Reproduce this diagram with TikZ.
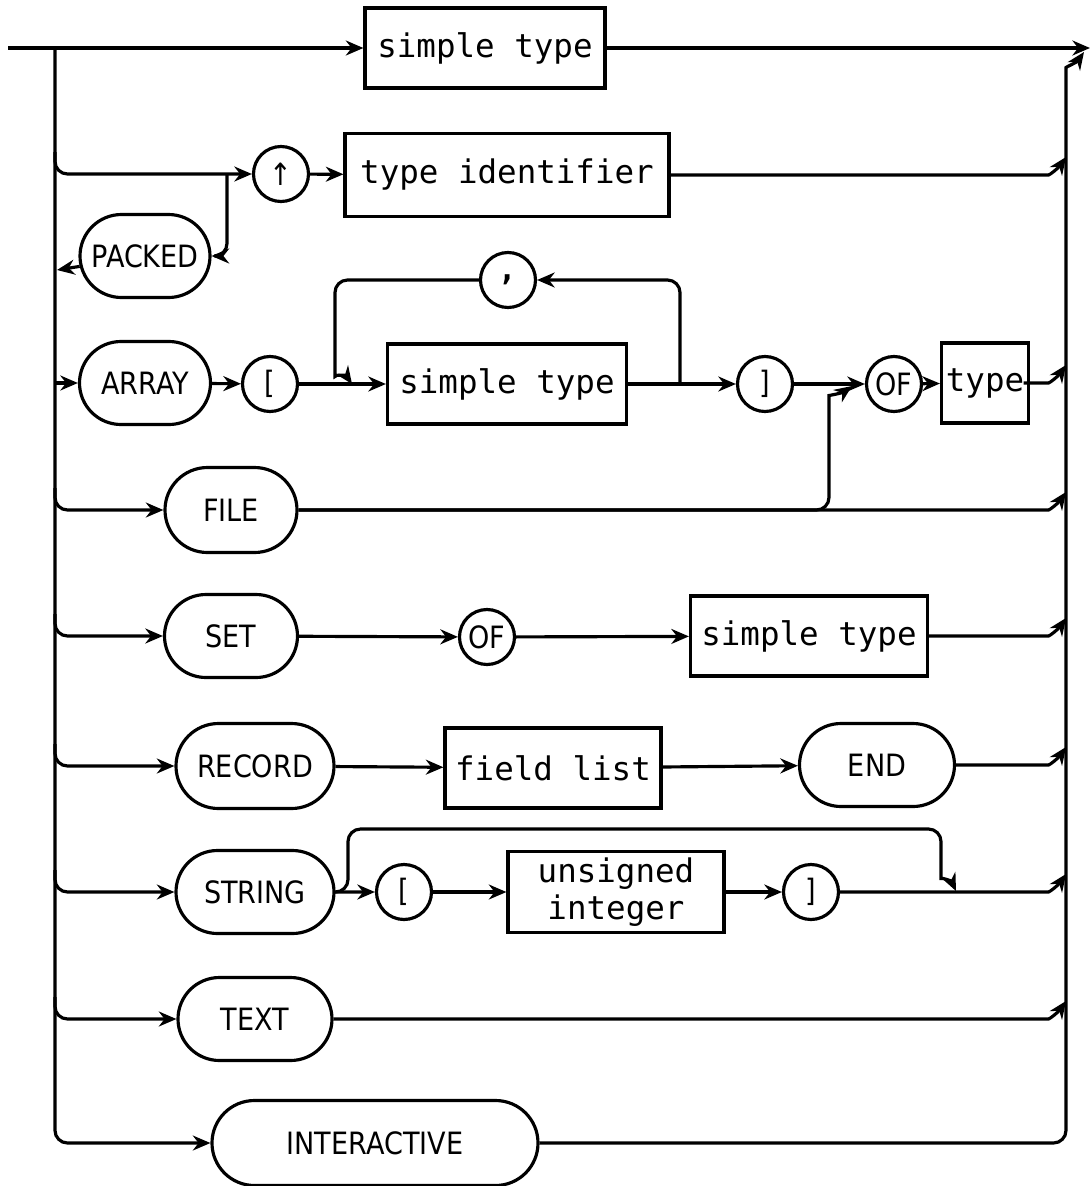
\documentclass[tikz,border=0pt]{standalone}
\usepackage{fontspec}
\setmainfont{DejaVu Sans}
\newfontfamily\kwfont{DejaVu Sans}[FakeStretch=0.88]
\newfontfamily\plotmono{DejaVu Sans Mono}
\usetikzlibrary{arrows.meta,shapes.misc}

\tikzset{
  kw/.style={draw, sharp corners, rounded rectangle, minimum height=16.6mm, inner sep=0pt,
    font=\kwfont\fontsize{17.5}{19}\selectfont},
  term/.style={draw, sharp corners, circle, minimum size=11mm, inner sep=0pt,
    font=\kwfont\fontsize{17.5}{19}\selectfont},
  nt/.style={draw, sharp corners, rectangle, minimum height=16mm, inner sep=0pt, align=center,
    font=\plotmono\fontsize{18.5}{21}\selectfont},
}

\begin{document}
\begin{tikzpicture}[x=0.2mm,y=-0.2mm,line width=1.8pt,rounded corners=2.5mm,
  >={Stealth[length=10pt,width=8.5pt]}]
  \useasboundingbox (0,0) rectangle (1091,1186);
  % rails
  \coordinate (in) at (8,48);
  \coordinate (out) at (1090,48);
  \coordinate (bl) at (55,48);
  \coordinate (jr) at (1036,48);
  \coordinate (br) at (1066,80);

  % rows
  \node[nt, minimum width=48mm] (st1) at (485,48) {simple type};
  \node[term] (up) at (281,174) {↑};
  \node[nt, minimum width=64.8mm, minimum height=16.6mm] (tid) at (507,175) {type identifier};
  \node[kw, minimum width=26mm] (packed) at (145,256) {PACKED};
  \node[kw, minimum width=26.2mm] (array) at (145,383) {ARRAY};
  \node[term] (lb1) at (270,384) {[};
  \node[term] (comma) at (508,280) {\textbf{,}};
  \node[nt, minimum width=47.8mm] (st2) at (507,384) {simple type};
  \node[term] (rb1) at (765,384) {]};
  \node[term] (of1) at (894,384) {OF};
  \node[nt, minimum width=17.4mm] (typ) at (985,383) {type};
  \node[kw, minimum width=26.4mm, minimum height=17mm] (file) at (231,510) {FILE};
  \node[kw, minimum width=26.6mm] (set) at (231,636) {SET};
  \node[term] (of2) at (487,637) {OF};
  \node[nt, minimum width=47.4mm] (st3) at (809,636) {simple type};
  \node[kw, minimum width=31.6mm, minimum height=17mm] (record) at (255,766) {RECORD};
  \node[nt, minimum width=43.2mm] (flist) at (553,768) {field list};
  \node[kw, minimum width=31mm] (endkw) at (877,765) {END};
  \node[kw, minimum width=31.6mm] (string) at (255,892) {STRING};
  \node[term] (lb2) at (404,892) {[};
  \node[nt, minimum width=43.2mm, minimum height=16.2mm] (uint) at (616,892) {unsigned\\integer};
  \node[term] (rb2) at (811,892) {]};
  \node[kw, minimum width=30.8mm] (text) at (255,1019) {TEXT};
  \node[kw, minimum width=65.2mm, minimum height=17mm] (inter) at (375,1143) {INTERACTIVE};

  % main line and rails
  \draw[->] (in) -- (st1);
  \draw[->] (st1) -- (out);
  \draw[->] (bl) |- (inter);
  \draw[->] (inter) -| (br) to[out=90,in=235] ++(18,-28);

  % pointer / packed
  \coordinate (pk) at (227,174);
  \coordinate (pb) at (57,270);
  \draw[->] (bl |- up) ++(0,-22) |- (up);
  \draw[->] (up) -- (tid);
  \draw[->] (pk) |- (packed);
  \draw[->] (packed) -- (pb);
  \draw[->] (tid) -- (tid -| jr) to[out=0,in=235] ++(30,-18);

  % array
  \coordinate (lr) at (680,384);
  \coordinate (ll) at (335,364);
  \coordinate (le) at (352,384);
  \draw[->] (array -| bl) -- (array);
  \draw[->] (array) -- (lb1);
  \draw[->] (lb1) -- (st2);
  \draw[->] (lr) |- (comma);
  \draw[->] (comma) -| (ll) to[out=270,in=125] (le);
  \draw[->] (st2) -- (rb1);
  \draw[->] (rb1) -- (of1);
  \draw[->] (of1) -- (typ);
  \draw[->] (typ) -- (typ -| jr) to[out=0,in=235] ++(30,-18);

  % file
  \coordinate (fk) at (829,408);
  \coordinate (fe) at (852,386);
  \draw[->] (bl |- file) ++(0,-22) |- (file);
  \draw[->] (file) -| (fk) to[out=90,in=215] (fe);
  \draw[->] (file) -- (file -| jr) to[out=0,in=235] ++(30,-18);

  % set
  \draw[->] (bl |- set) ++(0,-22) |- (set);
  \draw[->] (set) -- (of2);
  \draw[->] (of2) -- (st3);
  \draw[->] (st3) -- (st3 -| jr) to[out=0,in=235] ++(30,-18);

  % record
  \draw[->] (bl |- record) ++(0,-22) |- (record);
  \draw[->] (record) -- (flist);
  \draw[->] (flist) -- (endkw);
  \draw[->] (endkw) -- (endkw -| jr) to[out=0,in=235] ++(30,-18);

  % string
  \coordinate (bs) at (334,892);
  \coordinate (bk) at (348,829);
  \coordinate (bt) at (941,829);
  \coordinate (be) at (956,891);
  \draw[->] (bl |- string) ++(0,-22) |- (string);
  \draw[->] (string) -- (lb2);
  \draw[->] (lb2) -- (uint);
  \draw[->] (uint) -- (rb2);
  \draw[->] (bs) -| (bk) -- (bt) -- (941,866) to[out=270,in=115] (be);
  \draw[->] (rb2) -- (rb2 -| jr) to[out=0,in=235] ++(30,-18);

  % text
  \draw[->] (bl |- text) ++(0,-22) |- (text);
  \draw[->] (text) -- (text -| jr) to[out=0,in=235] ++(30,-18);
\end{tikzpicture}
\end{document}
